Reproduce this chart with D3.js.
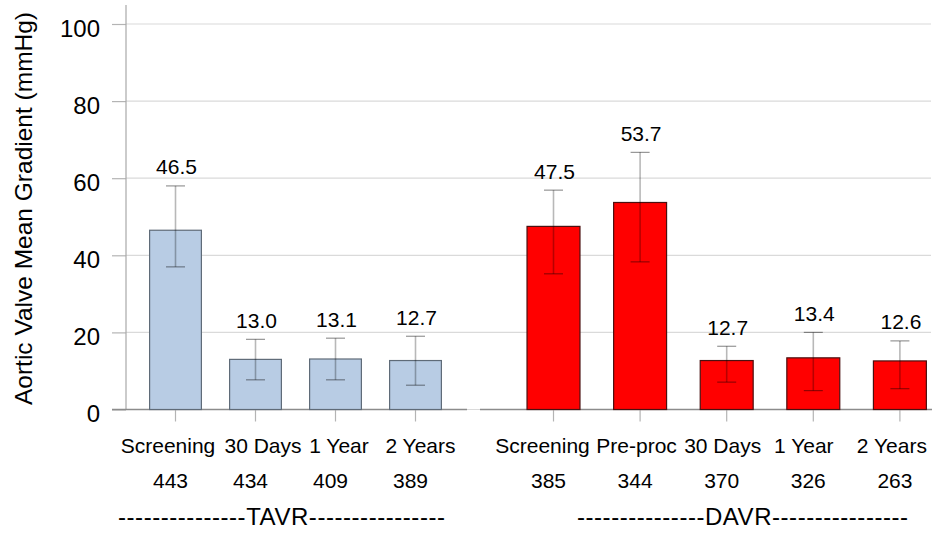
<!DOCTYPE html>
<html>
<head>
<meta charset="utf-8">
<script src="https://cdn.jsdelivr.net/npm/d3@7"></script>
<style>
  html, body { margin: 0; padding: 0; background: #fff; }
  svg { display: block; font-family: "Liberation Sans", Arial, Helvetica, sans-serif; }
</style>
</head>
<body>
<svg id="chart" width="943" height="533"></svg>
<script>
// ---- data ----
const tavrCategories = ["Screening", "30 Days", "1 Year", "2 Years"];
const tavrMeans = [46.5, 13.0, 13.1, 12.7];
const tavrUpper = [58.0, 18.2, 18.5, 19.0];
const tavrLower = [37.0, 7.7, 7.7, 6.3];
const tavrN = [443, 434, 409, 389];

const davrCategories = ["Screening", "Pre-proc", "30 Days", "1 Year", "2 Years"];
const davrMeans = [47.5, 53.7, 12.7, 13.4, 12.6];
const davrUpper = [56.9, 66.7, 16.4, 20.0, 17.8];
const davrLower = [35.2, 38.3, 7.1, 4.9, 5.4];
const davrN = [385, 344, 370, 326, 263];

const groupNames = ["TAVR", "DAVR"];
const yTicks = [0, 20, 40, 60, 80, 100];
const yTitle = "Aortic Valve Mean Gradient (mmHg)";

// ---- layout ----
const svg = d3.select("#chart");
const axisX = 126;
const y = d3.scaleLinear().domain([0, 100]).range([409.5, 24]);

const groups = [
  {
    name: groupNames[0], cats: tavrCategories, means: tavrMeans, up: tavrUpper, lo: tavrLower, n: tavrN,
    x: d3.scaleBand().domain(tavrCategories).range([135.5, 455.5]).paddingInner(0.34).paddingOuter(0.17),
    fill: "#b8cce4", stroke: "#5f6b78",
    base: [112, 467], labelShift: [-7.5, 7.5, 3.5, 5], groupX: [118, 445],
    leftDash: 15, rightDash: 16
  },
  {
    name: groupNames[1], cats: davrCategories, means: davrMeans, up: davrUpper, lo: davrLower, n: davrN,
    x: d3.scaleBand().domain(davrCategories).range([510.2, 943.2]).paddingInner(0.377).paddingOuter(0.1885),
    fill: "#ff0000", stroke: "#4a1010",
    base: [480, 932], labelShift: [-11, -3.5, -4, -9.5, -8], groupX: [577, 908],
    leftDash: 15, rightDash: 16
  }
];

// gridlines
svg.append("g").selectAll("line").data(yTicks).join("line")
  .attr("x1", axisX).attr("x2", 931)
  .attr("y1", d => y(d)).attr("y2", d => y(d))
  .attr("stroke", "#dadada").attr("stroke-width", 1.2);

// y axis via d3 axis
const yAxis = d3.axisLeft(y).tickValues(yTicks).tickSize(14).tickPadding(12).tickFormat(d3.format("d"));
const gy = svg.append("g").attr("transform", `translate(${axisX},0)`).call(yAxis);
gy.select(".domain").remove();
gy.selectAll(".tick line").attr("stroke", "#b4b4b4").attr("stroke-width", 1.2);
gy.selectAll(".tick text").attr("font-size", 24).attr("fill", "#000")
  .attr("font-family", "Liberation Sans, Arial, sans-serif").attr("dy", "0.5em");
svg.append("line").attr("x1", axisX).attr("x2", axisX).attr("y1", 5).attr("y2", y(0))
  .attr("stroke", "#a8a8a8").attr("stroke-width", 1.2);

// y title
svg.append("text")
  .attr("transform", `translate(32,${(8 + 409) / 2}) rotate(-90)`)
  .attr("text-anchor", "middle").attr("font-size", 24.5).attr("fill", "#000")
  .text(yTitle);

groups.forEach(g => {
  const x = g.x;
  const bw = x.bandwidth();
  const cx = c => x(c) + bw / 2;
  const idx = g.cats.map((c, i) => i);

  // baseline
  svg.append("line").attr("x1", g.base[0]).attr("x2", g.base[1])
    .attr("y1", y(0)).attr("y2", y(0)).attr("stroke", "#8c8c8c").attr("stroke-width", 1.3);

  // category ticks below axis
  svg.append("g").selectAll("line").data(idx).join("line")
    .attr("x1", i => cx(g.cats[i])).attr("x2", i => cx(g.cats[i]))
    .attr("y1", y(0)).attr("y2", y(0) + 12)
    .attr("stroke", "#b4b4b4").attr("stroke-width", 1.2);

  // bars
  svg.append("g").selectAll("rect").data(idx).join("rect")
    .attr("x", i => x(g.cats[i]) + 0.5)
    .attr("y", i => y(g.means[i]))
    .attr("width", bw - 1)
    .attr("height", i => y(0) - y(g.means[i]))
    .attr("fill", g.fill).attr("stroke", g.stroke).attr("stroke-width", 1.2);

  // error bars
  const eb = svg.append("g");
  eb.selectAll("line.stem").data(idx).join("line").attr("class", "stem")
    .attr("x1", i => cx(g.cats[i])).attr("x2", i => cx(g.cats[i]))
    .attr("y1", i => y(g.up[i])).attr("y2", i => y(g.lo[i]))
    .attr("stroke", "rgba(0,0,0,0.28)").attr("stroke-width", 1.6);
  ["up", "lo"].forEach(k => {
    eb.selectAll("line.cap" + k).data(idx).join("line").attr("class", "cap" + k)
      .attr("x1", i => cx(g.cats[i]) - 9.5).attr("x2", i => cx(g.cats[i]) + 9.5)
      .attr("y1", i => y(g[k][i])).attr("y2", i => y(g[k][i]))
      .attr("stroke", "rgba(0,0,0,0.42)").attr("stroke-width", 1.2);
  });

  // value labels
  svg.append("g").selectAll("text").data(idx).join("text")
    .attr("x", i => cx(g.cats[i]) + 1)
    .attr("y", i => y(g.up[i]) - 11.5)
    .attr("text-anchor", "middle").attr("font-size", 21).attr("fill", "#000")
    .text(i => g.means[i].toFixed(1));

  // category labels
  svg.append("g").selectAll("text").data(idx).join("text")
    .attr("x", i => cx(g.cats[i]) + g.labelShift[i])
    .attr("y", 453)
    .attr("text-anchor", "middle").attr("font-size", 21).attr("fill", "#000")
    .text(i => g.cats[i]);

  // counts
  svg.append("g").selectAll("text").data(idx).join("text")
    .attr("x", i => cx(g.cats[i]) - 5)
    .attr("y", 488)
    .attr("text-anchor", "middle").attr("font-size", 21).attr("fill", "#000")
    .text(i => g.n[i]);

  // group label
  svg.append("text")
    .attr("x", g.groupX[0]).attr("y", 525)
    .attr("font-size", 24).attr("fill", "#000")
    .attr("textLength", g.groupX[1] - g.groupX[0]).attr("lengthAdjust", "spacing")
    .text("-".repeat(g.leftDash) + g.name + "-".repeat(g.rightDash));
});
</script>
</body>
</html>
